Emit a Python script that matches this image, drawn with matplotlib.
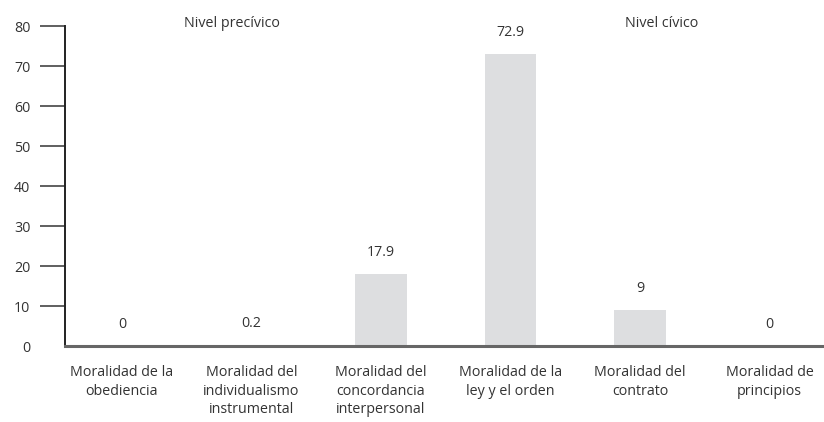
import matplotlib
matplotlib.use("Agg")
import matplotlib.pyplot as plt

categories = [
    "Moralidad de la\nobediencia",
    "Moralidad del\nindividualismo\ninstrumental",
    "Moralidad del\nconcordancia\ninterpersonal",
    "Moralidad de la\nley y el orden",
    "Moralidad del\ncontrato",
    "Moralidad de\nprincipios",
]
values = [0, 0.2, 17.9, 72.9, 9, 0]
value_labels = ["0", "0.2", "17.9", "72.9", "9", "0"]
y_ticks = [0, 10, 20, 30, 40, 50, 60, 70, 80]
level_labels = ["Nivel precívico", "Nivel cívico"]

plt.rcParams["font.family"] = ["Open Sans", "DejaVu Sans"]
text_color = "#333333"
fs = 10.3

fig = plt.figure(figsize=(8.24, 4.22), dpi=100)
ax = fig.add_axes([65 / 824, 1 - 346 / 422, 1 - 65 / 824, 320 / 422])

x = range(len(categories))
ax.bar(x, values, width=0.40, color="#dddee0", zorder=2)

for xi, v, lab in zip(x, values, value_labels):
    ax.annotate(lab, (xi, v), xytext=(0, 15.5), textcoords="offset points",
                ha="center", va="center", fontsize=fs, color=text_color)

ax.set_xlim(-0.44, 5.42)
ax.set_ylim(0, 80)
ax.set_yticks(y_ticks)
ax.set_xticks(list(x))
ax.set_xticklabels(categories, fontsize=fs, color=text_color, linespacing=1.3)
ax.tick_params(axis="x", length=0, pad=14)
ax.tick_params(axis="y", length=18, width=1.2, color="#444444", pad=7,
               labelsize=fs, labelcolor=text_color)
ax.yaxis.get_major_ticks()[0].tick1line.set_visible(False)

for side in ["top", "right"]:
    ax.spines[side].set_visible(False)
ax.spines["left"].set_color("#222222")
ax.spines["left"].set_linewidth(1.4)
ax.spines["bottom"].set_color("#666666")
ax.spines["bottom"].set_linewidth(2.2)
ax.spines["bottom"].set_zorder(3)

ax.text(0.85, 80.6, level_labels[0], ha="center", va="center",
        fontsize=fs, color=text_color, clip_on=False)
ax.text(4.17, 80.6, level_labels[1], ha="center", va="center",
        fontsize=fs, color=text_color, clip_on=False)

fig.savefig("out.png", dpi=100)
